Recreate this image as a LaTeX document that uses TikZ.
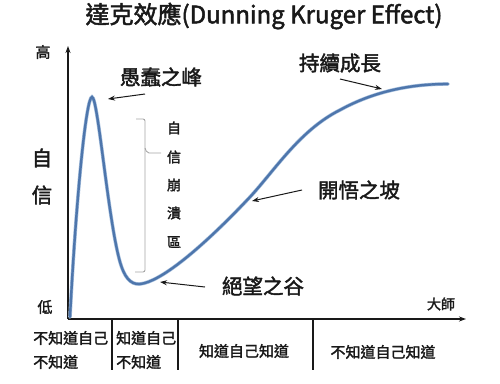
\documentclass[tikz,border=0pt]{standalone}
\usepackage{fontspec}
\setmainfont{Noto Sans CJK TC}[FakeBold=2]
\usetikzlibrary{arrows.meta}
\definecolor{curveblue}{RGB}{78,118,172}
\definecolor{curvelight}{RGB}{165,190,220}
\definecolor{bracegray}{RGB}{165,165,165}
\definecolor{ink}{RGB}{25,25,25}
\tikzset{
  lbl/.style={inner sep=0pt, text=ink, font=\fontsize{20.5}{22}\selectfont},
  small/.style={inner sep=0pt, text=ink, font=\fontsize{15}{17}\selectfont},
  axis/.style={line width=1.2pt, draw=ink, -{Stealth[length=7pt,width=5pt]}},
  divider/.style={line width=1.2pt, draw=ink},
  pointer/.style={line width=1pt, draw=ink, -{Stealth[length=7pt,width=5pt]}},
}
\begin{document}
\begin{tikzpicture}[x=1pt,y=-1pt]
\useasboundingbox (0,0) rectangle (500,383);
% title
\node[inner sep=0pt, text=ink, font=\fontsize{24}{26}\selectfont] (title) at (264,16) {達克效應(Dunning Kruger Effect)};
% axes
\coordinate (O) at (68,319);
\coordinate (ytop) at (68,46);
\coordinate (xend) at (466,319);
\draw[axis] (O) -- (ytop);
\draw[axis] (O) -- (xend);
% axis labels
\node[small] (hi) at (43,52) {高};
\node[small] (lo) at (45,307) {低};
\node[lbl] (zi) at (42,158) {自};
\node[lbl] (xin) at (42,195) {信};
\node[small, font=\fontsize{14}{16}\selectfont] (master) at (441,304) {大師};
% dividers
\coordinate (d1t) at (112,319); \coordinate (d1b) at (112,370);
\coordinate (d2t) at (178,319); \coordinate (d2b) at (178,370);
\coordinate (d3t) at (313,319); \coordinate (d3b) at (313,370);
\draw[divider] (d1t) -- (d1b);
\draw[divider] (d2t) -- (d2b);
\draw[divider] (d3t) -- (d3b);
% bottom texts
\node[small, anchor=west] (c1a) at (33,338) {不知道自己};
\node[small, anchor=west] (c1b) at (33,362) {不知道};
\node[small, anchor=west] (c2a) at (116,338) {知道自己};
\node[small, anchor=west] (c2b) at (116,362) {不知道};
\node[small] (c3) at (244,351) {知道自己知道};
\node[small] (c4) at (383,352) {不知道自己知道};
% curve
\def\curvepath{(70,317) .. controls (76,200) and (86,97) .. (92,97)
  .. controls (98,97) and (108,220) .. (120,262)
  .. controls (124,276) and (130,285) .. (140,284)
  .. controls (160,282) and (200,250) .. (250,197)
  .. controls (275,170) and (300,130) .. (340,110)
  .. controls (380,88) and (420,84) .. (448,84)}
\draw[curvelight, line width=3.6pt, line cap=round] \curvepath;
\draw[curveblue, line width=2.4pt, line cap=round] \curvepath;
% brace
\draw[bracegray, line width=0.9pt, rounded corners=2pt] (136,119) -- (145,119) -- (145,272) -- (135,272);
\draw[bracegray, line width=0.9pt, rounded corners=2pt] (145,148) -- (147,153) -- (161,153);
% vertical text
\node[small, font=\fontsize{14}{16}\selectfont] (v1) at (174,128) {自};
\node[small, font=\fontsize{14}{16}\selectfont] (v2) at (174,157) {信};
\node[small, font=\fontsize{14}{16}\selectfont] (v3) at (174,185) {崩};
\node[small, font=\fontsize{14}{16}\selectfont] (v4) at (174,213) {潰};
\node[small, font=\fontsize{14}{16}\selectfont] (v5) at (174,242) {區};
% labels
\node[lbl] (peak) at (161,77) {愚蠢之峰};
\node[lbl] (growth) at (340,63) {持續成長};
\node[lbl] (slope) at (359,190) {開悟之坡};
\node[lbl] (valley) at (263,286) {絕望之谷};
% pointer coordinates
\coordinate (p1s) at (145,94);  \coordinate (p1e) at (108,99);
\coordinate (p2s) at (340,79);  \coordinate (p2e) at (382,89);
\coordinate (p3s) at (302,190); \coordinate (p3e) at (252,201);
\coordinate (p4s) at (205,287); \coordinate (p4e) at (160,282);
\draw[pointer] (p1s) -- (p1e);
\draw[pointer] (p2s) -- (p2e);
\draw[pointer] (p3s) -- (p3e);
\draw[pointer] (p4s) -- (p4e);
\end{tikzpicture}
\end{document}
